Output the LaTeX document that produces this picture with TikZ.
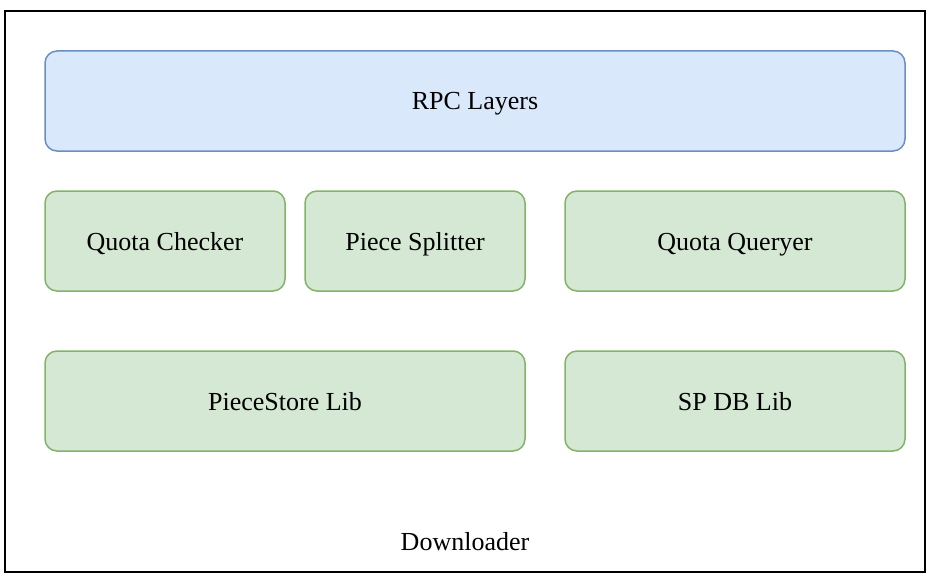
\documentclass[tikz,border=0pt]{standalone}
\usepackage{fontspec}
\setmainfont{Liberation Serif}
\definecolor{bluefill}{HTML}{DAE8FC}
\definecolor{bluedraw}{HTML}{6C8EBF}
\definecolor{greenfill}{HTML}{D5E8D4}
\definecolor{greendraw}{HTML}{82B366}
\begin{document}
\begin{tikzpicture}[x=1pt,y=-1pt,
  blk/.style={rounded corners=12pt,line width=1.5pt},
  bluebox/.style={blk,fill=bluefill,draw=bluedraw},
  greenbox/.style={blk,fill=greenfill,draw=greendraw},
  lbl/.style={font=\fontsize{26}{30}\selectfont,inner sep=0pt,text height=17pt,text depth=5pt,yshift=-3pt}]
\useasboundingbox (0,0) rectangle (932,578);
\draw[line width=2pt] (5,11) rectangle (925,572);
\draw[bluebox] (45,51) rectangle (905,151);
\node[lbl] (rpc) at (475,101) {RPC Layers};
\draw[greenbox] (45,191) rectangle (285,291);
\node[lbl] (qc) at (165,241) {Quota Checker};
\draw[greenbox] (305,191) rectangle (525,291);
\node[lbl] (ps) at (415,241) {Piece Splitter};
\draw[greenbox] (565,191) rectangle (905,291);
\node[lbl] (qq) at (735,241) {Quota Queryer};
\draw[greenbox] (45,351) rectangle (525,451);
\node[lbl] (psl) at (285,401) {PieceStore Lib};
\draw[greenbox] (565,351) rectangle (905,451);
\node[lbl] (sp) at (735,401) {SP DB Lib};
\node[lbl] (dl) at (465,541) {Downloader};
\end{tikzpicture}
\end{document}
